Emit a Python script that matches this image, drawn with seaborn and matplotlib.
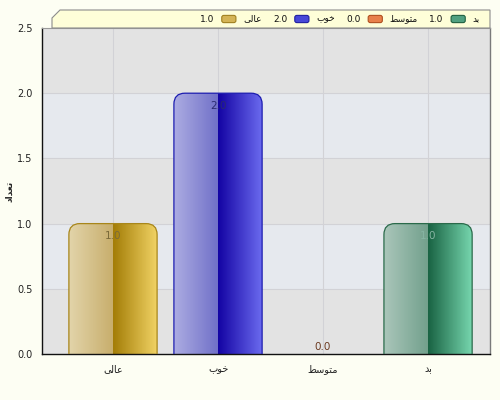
import numpy as np
import seaborn as sns
import matplotlib.pyplot as plt
from matplotlib.colors import to_rgb
from matplotlib.patches import FancyBboxPatch, Polygon
from matplotlib.offsetbox import TextArea, DrawingArea, HPacker, AnchoredOffsetbox

categories = ['عالی', 'خوب', 'متوسط', 'بد']
values = [1.0, 2.0, 0.0, 1.0]
y_ticks = [0.0, 0.5, 1.0, 1.5, 2.0, 2.5]
y_label = 'تعداد'

# bar colours: left edge, centre-left, centre-right, right edge, border, label
bar_cols = [
    ('#E2D4AA', '#C8AE6C', '#A47E08', '#F2D466', '#A8861A', '#7A6A3A'),
    ('#ACACE2', '#7070C8', '#1404A4', '#6C6CF0', '#1C1CB0', '#2A2A70'),
    ('#F0C0A0', '#E09060', '#C05010', '#F0A060', '#B05020', '#6B3A20'),
    ('#AAC6BA', '#72A08C', '#1A6444', '#78D8B0', '#2A6A4A', '#86B4A2'),
]
legend_cols = [('#D4B456', '#A08020'), ('#4848D8', '#2020A0'),
               ('#E8804A', '#B05020'), ('#50A080', '#206040')]

# minimal arabic/persian shaping (matplotlib has no complex text layout)
FORMS = {
    'ا': ('\uFE8D', '\uFE8E', None, None),
    'ب': ('\uFE8F', '\uFE90', '\uFE91', '\uFE92'),
    'ت': ('\uFE95', '\uFE96', '\uFE97', '\uFE98'),
    'خ': ('\uFEA5', '\uFEA6', '\uFEA7', '\uFEA8'),
    'د': ('\uFEA9', '\uFEAA', None, None),
    'س': ('\uFEB1', '\uFEB2', '\uFEB3', '\uFEB4'),
    'ط': ('\uFEC1', '\uFEC2', '\uFEC3', '\uFEC4'),
    'ع': ('\uFEC9', '\uFECA', '\uFECB', '\uFECC'),
    'ل': ('\uFEDD', '\uFEDE', '\uFEDF', '\uFEE0'),
    'م': ('\uFEE1', '\uFEE2', '\uFEE3', '\uFEE4'),
    'و': ('\uFEED', '\uFEEE', None, None),
    'ی': ('\uFBFC', '\uFBFD', '\uFBFE', '\uFBFF'),
}


def shape(word):
    out = []
    n = len(word)
    for i, c in enumerate(word):
        if c not in FORMS:
            out.append(c)
            continue
        iso, fin, ini, med = FORMS[c]
        prev_j = i > 0 and word[i - 1] in FORMS and FORMS[word[i - 1]][2] is not None
        next_j = i < n - 1 and word[i + 1] in FORMS
        if ini is None:
            out.append(fin if prev_j else iso)
        elif prev_j and next_j:
            out.append(med)
        elif prev_j:
            out.append(fin)
        elif next_j:
            out.append(ini)
        else:
            out.append(iso)
    return ''.join(reversed(out))


sns.set_style('white')
plt.rcParams['font.family'] = ['DejaVu Sans']

fig = plt.figure(figsize=(5, 4), dpi=100, facecolor='#FDFEF3')
ax = fig.add_axes([42 / 500, 1 - 354 / 400, 448 / 500, 326 / 400])

sns.barplot(x=categories, y=values, hue=categories, palette=[c[2] for c in bar_cols],
            width=0.84, legend=False, ax=ax, zorder=2)

xlim = (-0.676, 3.59)
ax.set_xlim(xlim)
ax.set_ylim(y_ticks[0], y_ticks[-1])

# alternating bands
for i in range(len(y_ticks) - 1):
    ax.axhspan(y_ticks[i], y_ticks[i + 1], color='#E3E3E3' if i % 2 == 0 else '#E6E9EE',
               lw=0, zorder=0)
ax.set_facecolor('#E3E3E3')
ax.grid(True, color='#D2D2D6', lw=0.8, zorder=1)
ax.set_axisbelow(True)

rx = 11 / 105
ry = 11 / 130.4
for p, cols in zip(ax.patches, bar_cols):
    x0, w, h = p.get_x(), p.get_width(), p.get_height()
    p.set_visible(False)
    if h <= 0:
        continue
    box = FancyBboxPatch((x0, -ry), w, h + ry, boxstyle=f'round,pad=0,rounding_size={rx}',
                         mutation_aspect=ry / rx, fc='none', ec=cols[4], lw=0.9, zorder=3)
    ax.add_patch(box)
    n = 200
    left = np.linspace(to_rgb(cols[0]), to_rgb(cols[1]), n // 2)
    right = np.linspace(to_rgb(cols[2]), to_rgb(cols[3]), n // 2)
    grad = np.concatenate([left, right])[None, :, :]
    im = ax.imshow(grad, extent=(x0, x0 + w, 0, h), aspect='auto', zorder=2,
                   interpolation='nearest')
    im.set_clip_path(box)

for i, (v, cols) in enumerate(zip(values, bar_cols)):
    off = -9 if v > 0 else 5
    ax.annotate(f'{v:.1f}', (i, v), xytext=(0, off), textcoords='offset points',
                ha='center', va='center', fontsize=7.5, color=cols[5], zorder=5)

ax.set_xlim(xlim)
ax.set_ylim(y_ticks[0], y_ticks[-1])
ax.set_xticks(range(len(categories)), [shape(c) for c in categories])
ax.set_yticks(y_ticks, [f'{t:.1f}' for t in y_ticks])
ax.tick_params(axis='both', length=4, width=0.8, colors='#222222', labelsize=7, pad=3)
ax.set_xlabel('')
ax.set_ylabel(shape(y_label), fontsize=6.5, fontweight='bold', labelpad=2)

for s in ['left', 'bottom']:
    ax.spines[s].set_color('#111111')
    ax.spines[s].set_linewidth(1.0)
ax.spines['right'].set_color('#7A7A7A')
ax.spines['top'].set_color('#9A9A9A')
ax.spines['right'].set_linewidth(1.0)
ax.spines['top'].set_linewidth(0.8)

# legend strip above the plot
frame = Polygon([(52 / 500, 1 - 28 / 400), (52 / 500, 1 - 18 / 400), (60 / 500, 1 - 10 / 400),
                 (490 / 500, 1 - 10 / 400), (490 / 500, 1 - 28 / 400)],
                closed=True, fc='#FEFED8', ec='#8C8C8C', lw=0.8,
                transform=fig.transFigure, zorder=1)
fig.add_artist(frame)

entries = []
for name, v, (fc, ec) in zip(categories, values, legend_cols):
    da = DrawingArea(11, 6)
    da.add_artist(FancyBboxPatch((0.4, 0.4), 10.2, 5.2, boxstyle='round,pad=0,rounding_size=1.5',
                                 fc=fc, ec=ec, lw=0.8))
    tp = dict(fontsize=6.5, color='#111111')
    entries.append(HPacker(children=[TextArea(f'{v:.1f}', textprops=tp), da,
                                     TextArea(shape(name), textprops=tp)],
                           sep=5, align='center', pad=0))
leg = AnchoredOffsetbox(loc='center right', child=HPacker(children=entries, sep=8, align='center', pad=0),
                        pad=0, borderpad=0, frameon=False,
                        bbox_to_anchor=(480 / 500, 1 - 19 / 400), bbox_transform=fig.transFigure)
leg.set_zorder(2)
fig.add_artist(leg)

fig.savefig('out.png', dpi=100, facecolor=fig.get_facecolor())
